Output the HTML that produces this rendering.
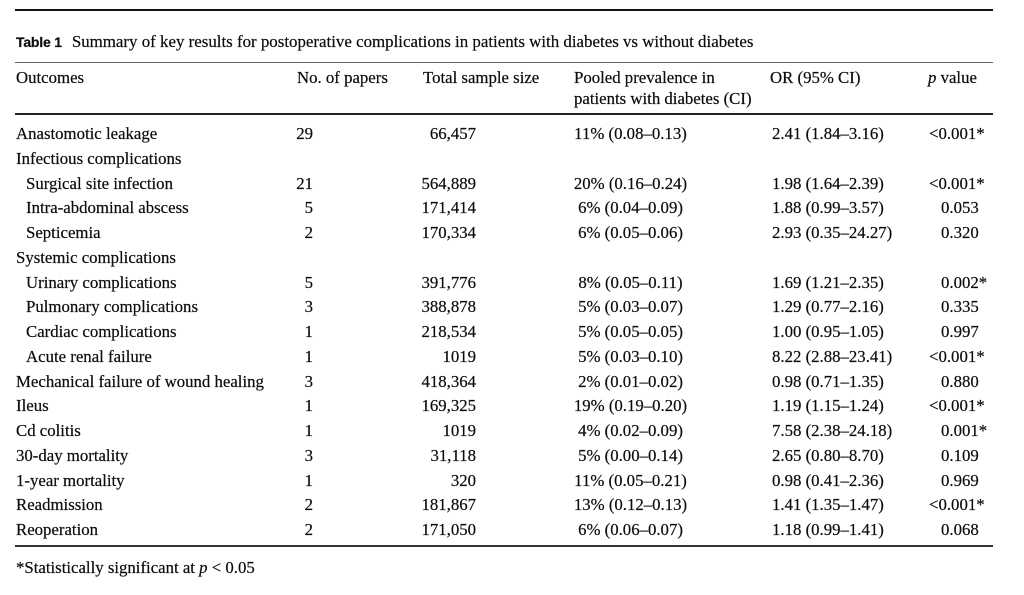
<!DOCTYPE html>
<html>
<head>
<meta charset="utf-8">
<style>
  html, body { margin:0; padding:0; background:#fff; }
  body { width:1024px; height:595px; position:relative; overflow:hidden;
         font-family:"Liberation Serif", "Times New Roman", serif; color:#0c0c0c; font-size:16.8px;
         -webkit-text-stroke:0.2px #0c0c0c; }
  .rule { position:absolute; left:15px; width:978px; }
  .cap { position:absolute; left:16px; top:32.4px; line-height:20px; white-space:nowrap; font-size:16.9px; }
  .cap b { font-family:"Liberation Sans", Arial, sans-serif; font-weight:bold; font-size:14px; margin-right:10px; letter-spacing:-0.2px; }
  .hd { position:absolute; line-height:21px; white-space:nowrap; top:66.6px; }
  .row { position:absolute; left:0; width:1024px; height:24.75px; line-height:24.75px; white-space:nowrap; }
  .row span { position:absolute; top:0; }
  .c1 { left:16px; }
  .ind { left:26px; }
  .c2 { right:711px; text-align:right; }
  .c3 { right:548px; text-align:right; }
  .c4 { left:560px; width:141px; text-align:center; }
  .c5 { left:772px; }
  .c6 { left:941px; }
  .row span.lt { position:static; margin-left:-12px; }
  .foot { position:absolute; left:16px; top:558px; line-height:20px; white-space:nowrap; }
</style>
</head>
<body>
  <div class="rule" style="top:9px;height:2px;background:#111;"></div>

  <div class="cap"><b>Table 1</b>Summary of key results for postoperative complications in patients with diabetes vs without diabetes</div>

  <div class="rule" style="top:62px;height:1px;background:#666;"></div>

  <div class="hd" style="left:16px;">Outcomes</div>
  <div class="hd" style="left:297px;">No. of papers</div>
  <div class="hd" style="left:423px;">Total sample size</div>
  <div class="hd" style="left:574px;">Pooled prevalence in<br>patients with diabetes (CI)</div>
  <div class="hd" style="left:770px;">OR (95% CI)</div>
  <div class="hd" style="left:928px;"><i>p</i> value</div>

  <div class="rule" style="top:113px;height:2px;background:#222;"></div>

  <div class="row" style="top:122px;"><span class="c1">Anastomotic leakage</span><span class="c2">29</span><span class="c3">66,457</span><span class="c4">11% (0.08–0.13)</span><span class="c5">2.41 (1.84–3.16)</span><span class="c6"><span class="lt">&lt;</span>0.001*</span></div>
  <div class="row" style="top:146.75px;"><span class="c1">Infectious complications</span></div>
  <div class="row" style="top:171.5px;"><span class="ind">Surgical site infection</span><span class="c2">21</span><span class="c3">564,889</span><span class="c4">20% (0.16–0.24)</span><span class="c5">1.98 (1.64–2.39)</span><span class="c6"><span class="lt">&lt;</span>0.001*</span></div>
  <div class="row" style="top:196.25px;"><span class="ind">Intra-abdominal abscess</span><span class="c2">5</span><span class="c3">171,414</span><span class="c4">6% (0.04–0.09)</span><span class="c5">1.88 (0.99–3.57)</span><span class="c6">0.053</span></div>
  <div class="row" style="top:221px;"><span class="ind">Septicemia</span><span class="c2">2</span><span class="c3">170,334</span><span class="c4">6% (0.05–0.06)</span><span class="c5">2.93 (0.35–24.27)</span><span class="c6">0.320</span></div>
  <div class="row" style="top:245.75px;"><span class="c1">Systemic complications</span></div>
  <div class="row" style="top:270.5px;"><span class="ind">Urinary complications</span><span class="c2">5</span><span class="c3">391,776</span><span class="c4">8% (0.05–0.11)</span><span class="c5">1.69 (1.21–2.35)</span><span class="c6">0.002*</span></div>
  <div class="row" style="top:295.25px;"><span class="ind">Pulmonary complications</span><span class="c2">3</span><span class="c3">388,878</span><span class="c4">5% (0.03–0.07)</span><span class="c5">1.29 (0.77–2.16)</span><span class="c6">0.335</span></div>
  <div class="row" style="top:320px;"><span class="ind">Cardiac complications</span><span class="c2">1</span><span class="c3">218,534</span><span class="c4">5% (0.05–0.05)</span><span class="c5">1.00 (0.95–1.05)</span><span class="c6">0.997</span></div>
  <div class="row" style="top:344.75px;"><span class="ind">Acute renal failure</span><span class="c2">1</span><span class="c3">1019</span><span class="c4">5% (0.03–0.10)</span><span class="c5">8.22 (2.88–23.41)</span><span class="c6"><span class="lt">&lt;</span>0.001*</span></div>
  <div class="row" style="top:369.5px;"><span class="c1">Mechanical failure of wound healing</span><span class="c2">3</span><span class="c3">418,364</span><span class="c4">2% (0.01–0.02)</span><span class="c5">0.98 (0.71–1.35)</span><span class="c6">0.880</span></div>
  <div class="row" style="top:394.25px;"><span class="c1">Ileus</span><span class="c2">1</span><span class="c3">169,325</span><span class="c4">19% (0.19–0.20)</span><span class="c5">1.19 (1.15–1.24)</span><span class="c6"><span class="lt">&lt;</span>0.001*</span></div>
  <div class="row" style="top:419px;"><span class="c1">Cd colitis</span><span class="c2">1</span><span class="c3">1019</span><span class="c4">4% (0.02–0.09)</span><span class="c5">7.58 (2.38–24.18)</span><span class="c6">0.001*</span></div>
  <div class="row" style="top:443.75px;"><span class="c1">30-day mortality</span><span class="c2">3</span><span class="c3">31,118</span><span class="c4">5% (0.00–0.14)</span><span class="c5">2.65 (0.80–8.70)</span><span class="c6">0.109</span></div>
  <div class="row" style="top:468.5px;"><span class="c1">1-year mortality</span><span class="c2">1</span><span class="c3">320</span><span class="c4">11% (0.05–0.21)</span><span class="c5">0.98 (0.41–2.36)</span><span class="c6">0.969</span></div>
  <div class="row" style="top:493.25px;"><span class="c1">Readmission</span><span class="c2">2</span><span class="c3">181,867</span><span class="c4">13% (0.12–0.13)</span><span class="c5">1.41 (1.35–1.47)</span><span class="c6"><span class="lt">&lt;</span>0.001*</span></div>
  <div class="row" style="top:518px;"><span class="c1">Reoperation</span><span class="c2">2</span><span class="c3">171,050</span><span class="c4">6% (0.06–0.07)</span><span class="c5">1.18 (0.99–1.41)</span><span class="c6">0.068</span></div>

  <div class="rule" style="top:545px;height:2px;background:#333;"></div>

  <div class="foot">*Statistically significant at <i>p</i> &lt; 0.05</div>
</body>
</html>
